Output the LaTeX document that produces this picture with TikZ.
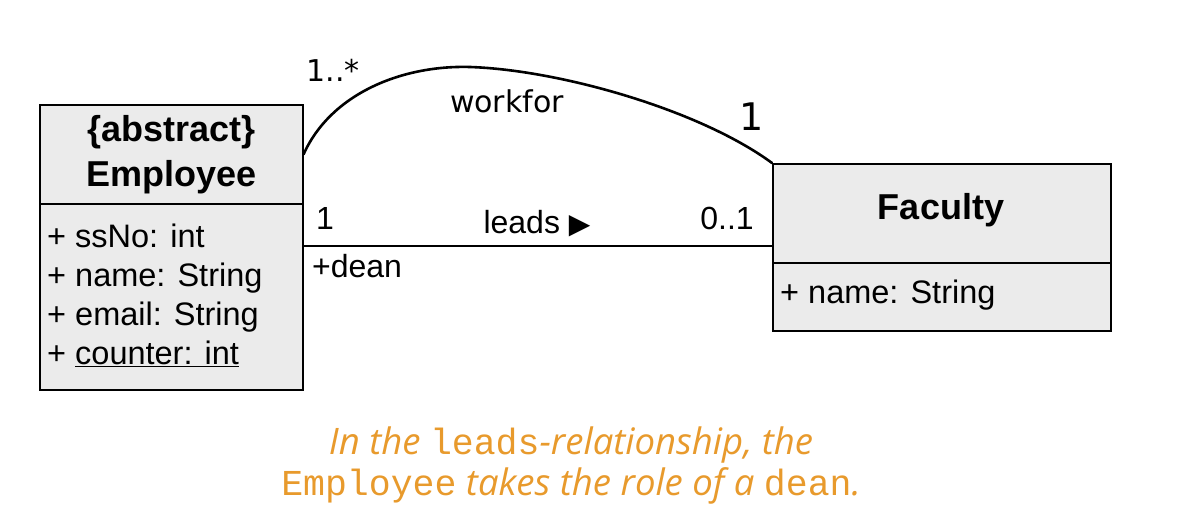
\documentclass[tikz,border=0pt]{standalone}
\usepackage{fontspec}
\setmainfont{Liberation Sans}
\newfontfamily\symfont{DejaVu Sans}
\newfontfamily\handfont{DejaVu Sans}
\newfontfamily\notefont{Open Sans}
\newfontfamily\notemono{Liberation Mono}
\definecolor{boxgray}{HTML}{EBEBEB}
\definecolor{noteorange}{HTML}{E89A2C}
\begin{document}
\begin{tikzpicture}[x=1pt,y=-1pt,
  classbox/.style={draw=black, line width=1.6pt, fill=boxgray, inner sep=0pt, anchor=north west},
  titletext/.style={align=center, font=\fontsize{36}{45}\selectfont\bfseries, inner sep=0pt},
  attrtext/.style={align=left, font=\fontsize{32.5}{39}\selectfont, inner sep=0pt, anchor=west},
  assoclabel/.style={font=\fontsize{32}{39}\selectfont, inner sep=0pt},
  handlabel/.style={font=\handfont\fontsize{30}{36}\selectfont, inner sep=0pt},
  assocline/.style={line width=1.6pt},
  handline/.style={line width=2.6pt, line cap=round},
  note/.style={align=center, text=noteorange, inner sep=0pt, font=\fontsize{36.5}{41}\selectfont}
]
\useasboundingbox[fill=white] (0,0) rectangle (1198,526);

% Employee class
\node[classbox, minimum width=263pt, minimum height=99pt] (emptitle) at (39,104) {};
\node[classbox, minimum width=263pt, minimum height=186pt] (empattr) at (39,203) {};
\node[titletext] (empname) at (emptitle.center) {\{abstract\}\\Employee};
\node[attrtext] (empattrs) at (47,295.5) {+ ssNo: int\\+ name: String\\+ email: String\\+ \underline{counter: int}};

% Faculty class
\node[classbox, minimum width=338pt, minimum height=99pt] (factitle) at (772,163) {};
\node[classbox, minimum width=338pt, minimum height=68pt] (facattr) at (772,262) {};
\node[titletext] (facname) at (941,210) {Faculty};
\node[attrtext] (facattrs) at (780,295) {+ name: String};

% leads association
\draw[assocline] (empattr.north east) ++(0,43) coordinate (leadsA) -- (leadsA -| factitle.west) coordinate (leadsB);
\node[assoclabel] (multA) at (325,218) {1};
\node[assoclabel] (leadsname) at (537,224) {leads {\symfont\fontsize{28}{30}\selectfont ▶}};
\node[assoclabel] (multB) at (727,218) {0..1};
\node[assoclabel] (rolename) at (357,266) {+dean};

% handwritten workfor association
\draw[handline] (emptitle.east) .. controls (330,95) and (400,65) .. (470,67)
  .. controls (560,70) and (700,110) .. (factitle.north west);
\node[handlabel] (handmultA) at (333,70) {1..*};
\node[handlabel] (handname) at (507,101) {workfor};
\node[handlabel, font=\handfont\fontsize{38}{40}\selectfont] (handmultB) at (752,117) {1};

% note
\node[note] (notetext) at (571,466) {%
  {\notefont\itshape In the }{\notemono leads}{\notefont\itshape -relationship, the}\\
  {\notemono Employee}{\notefont\itshape\ takes the role of a }{\notemono dean}{\notefont\itshape .}};
\end{tikzpicture}
\end{document}
